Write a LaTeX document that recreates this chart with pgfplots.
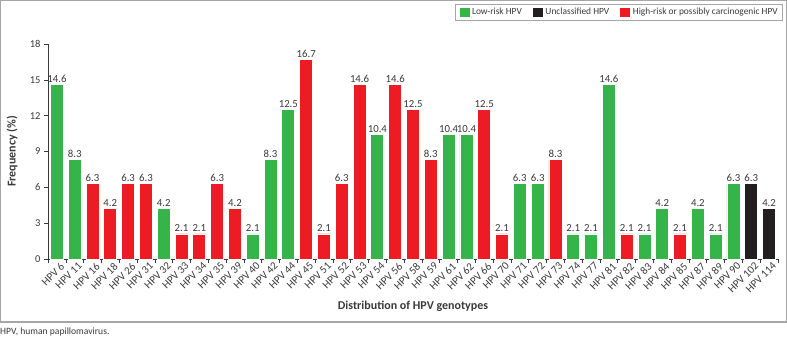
\documentclass[border=0pt]{standalone}
\usepackage{fontspec}
\setmainfont{Carlito}
\usepackage{pgfplots}
\pgfplotsset{compat=1.18}

\definecolor{lowrisk}{HTML}{35B44A}
\definecolor{unclass}{HTML}{231F20}
\definecolor{highrisk}{HTML}{ED1C24}
\definecolor{txt}{HTML}{3A3A3A}
\definecolor{framegray}{HTML}{A6A6A6}

% genotype tick label
\newcommand\gt[1]{\fontsize{11}{13}\selectfont HPV~#1}

\begin{document}
\begin{tikzpicture}
\useasboundingbox (0pt,0pt) rectangle (787pt,-339pt);
\draw[framegray, line width=1.2pt] (0.6pt,-0.6pt) rectangle (786.4pt,-322pt);
\node[anchor=west, inner sep=0pt, font=\fontsize{9.6}{11}\selectfont, text=txt] at (0pt,-332pt) {HPV, human papillomavirus.};

\begin{axis}[
  at={(48pt,-259pt)}, anchor=south west,
  scale only axis, width=730pt, height=215pt,
  xmin=-0.5, xmax=40.5, ymin=0, ymax=18,
  axis lines*=left,
  axis line style={txt, line width=0.6pt},
  ytick={0,3,...,18},
  xtick={0,...,40},
  xticklabels={\gt{6},\gt{11},\gt{16},\gt{18},\gt{26},\gt{31},\gt{32},\gt{33},\gt{34},\gt{35},\gt{39},\gt{40},\gt{42},\gt{44},\gt{45},\gt{51},\gt{52},\gt{53},\gt{54},\gt{56},\gt{58},\gt{59},\gt{61},\gt{62},\gt{66},\gt{70},\gt{71},\gt{72},\gt{73},\gt{74},\gt{77},\gt{81},\gt{82},\gt{83},\gt{84},\gt{85},\gt{87},\gt{89},\gt{90},\gt{102},\gt{114}},
  minor xtick={-0.5,0.5,...,40.5},
  major x tick style={draw=none},
  minor tick length=4pt,
  major tick length=4pt,
  tick align=outside,
  tick style={txt, line width=0.6pt},
  xticklabel style={rotate=45, anchor=north east, inner sep=1pt, text=txt, xshift=4pt},
  yticklabel style={font=\fontsize{10.5}{12}\selectfont, text=txt},
  /pgf/number format/assume math mode=true,
  ylabel={\bfseries Frequency (\%)},
  xlabel={\bfseries Distribution of HPV genotypes},
  every axis y label/.style={at={(axis description cs:-0.0493,0.5)}, rotate=90, anchor=center, font=\fontsize{12}{14}\selectfont, text=txt},
  every axis x label/.style={at={(axis description cs:0.5,-0.2186)}, anchor=center, font=\fontsize{12}{14}\selectfont, text=txt},
  ybar, bar width=13pt, bar shift=0pt,
  nodes near coords={\pgfmathprintnumber[fixed,fixed zerofill,precision=1]{\pgfplotspointmeta}},
  every node near coord/.append style={font=\fontsize{10.8}{12}\selectfont, text=txt, inner sep=1.5pt},
  legend columns=3,
  legend style={at={(axis description cs:1,1)}, anchor=north east, xshift=5pt, yshift=40pt,
    draw=framegray, line width=0.6pt, font=\fontsize{9.4}{11}\selectfont, text=txt,
    inner xsep=3pt, inner ysep=2pt,
    /tikz/every even column/.append style={column sep=8pt}},
  legend image code/.code={\draw[#1, draw=white, line width=0.6pt] (0pt,-5pt) rectangle (11pt,5.5pt);},
]
% low-risk types
\addplot[fill=lowrisk, draw=white, line width=0.8pt] coordinates {
  (0,14.6) (1,8.3) (6,4.2) (11,2.1) (12,8.3) (13,12.5) (18,10.4) (22,10.4) (23,10.4)
  (26,6.3) (27,6.3) (29,2.1) (30,2.1) (31,14.6) (33,2.1) (34,4.2) (36,4.2) (37,2.1) (38,6.3)};
\addlegendentry{Low-risk HPV}
% unclassified types
\addplot[fill=unclass, draw=white, line width=0.8pt] coordinates {
  (39,6.3) (40,4.2)};
\addlegendentry{Unclassified HPV}
% high-risk or possibly carcinogenic types
\addplot[fill=highrisk, draw=white, line width=0.8pt] coordinates {
  (2,6.3) (3,4.2) (4,6.3) (5,6.3) (7,2.1) (8,2.1) (9,6.3) (10,4.2) (14,16.7) (15,2.1)
  (16,6.3) (17,14.6) (19,14.6) (20,12.5) (21,8.3) (24,12.5) (25,2.1) (28,8.3) (32,2.1) (35,2.1)};
\addlegendentry{High-risk or possibly carcinogenic HPV}
\end{axis}
\end{tikzpicture}
\end{document}
